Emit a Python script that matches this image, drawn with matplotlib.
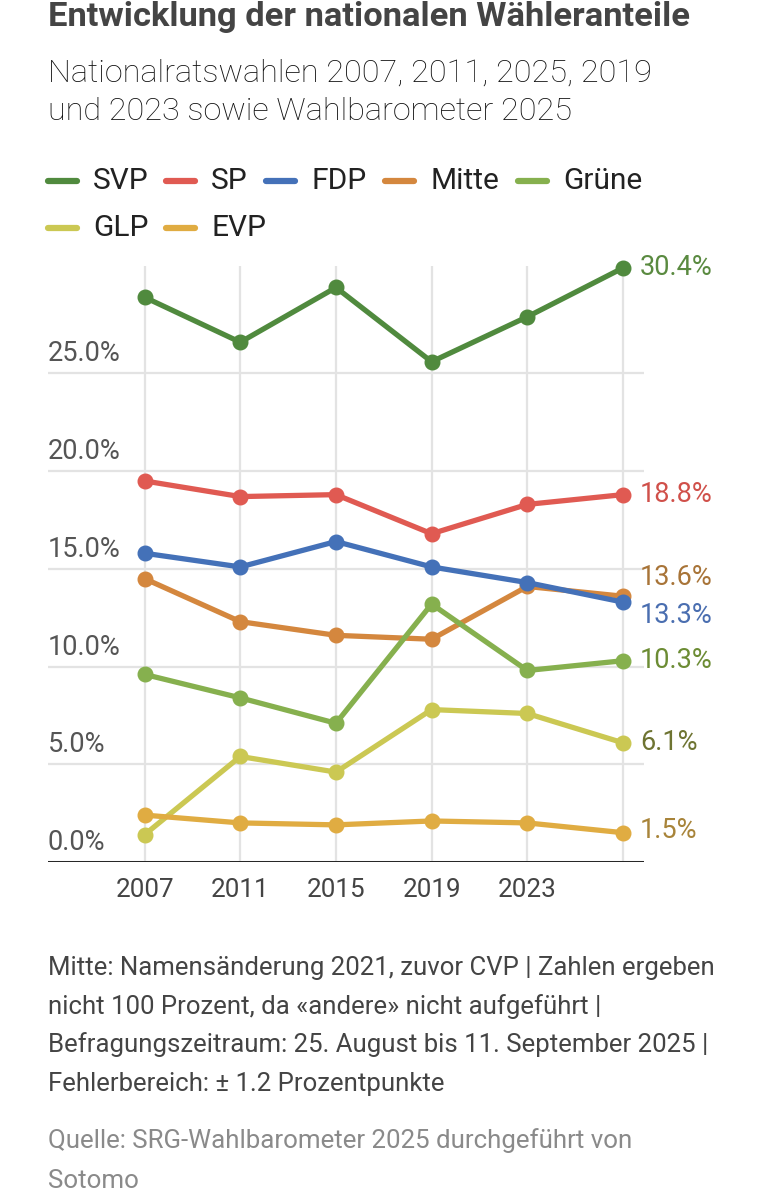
import matplotlib
matplotlib.use('Agg')
import matplotlib.pyplot as plt
from matplotlib.lines import Line2D
from matplotlib import transforms

FONT = ['Liberation Sans Narrow', 'Roboto', 'DejaVu Sans']
plt.rcParams['font.family'] = FONT

years = ['2007', '2011', '2015', '2019', '2023', '']
parties = ['SVP', 'SP', 'FDP', 'Mitte', 'Grüne', 'GLP', 'EVP']
svp = [28.9, 26.6, 29.4, 25.6, 27.9, 30.4]
sp = [19.5, 18.7, 18.8, 16.8, 18.3, 18.8]
fdp = [15.8, 15.1, 16.4, 15.1, 14.3, 13.3]
mitte = [14.5, 12.3, 11.6, 11.4, 14.1, 13.6]
gruene = [9.6, 8.4, 7.1, 13.2, 9.8, 10.3]
glp = [1.4, 5.4, 4.6, 7.8, 7.6, 6.1]
evp = [2.4, 2.0, 1.9, 2.1, 2.0, 1.5]
series = [svp, sp, fdp, mitte, gruene, glp, evp]
yticks = [0, 5, 10, 15, 20, 25]

colors = ['#508a3e', '#e05a52', '#4471b8', '#d4873e', '#86b04e', '#cbc853', '#e0ac42']
label_colors = ['#5a8a40', '#d0504a', '#4a6eb0', '#a87438', '#6c8c34', '#6e7432', '#a8843a']
zorders = [3, 3, 4, 3, 4, 4, 5]
label_shift = [0, 0, 13, -19, 0, 0, -2]  # pixels, to avoid overlapping end labels

W, H = 763, 1200
fig = plt.figure(figsize=(W / 100, H / 100), dpi=100)


def fx(px):
    return px / W


def fy(py):
    return 1 - py / H


# header
fig.text(fx(48), fy(17), 'Entwicklung der nationalen Wähleranteile', fontsize=24.8,
         fontweight='bold', color='#444444', va='center', ha='left')
fig.text(fx(48), fy(73), 'Nationalratswahlen 2007, 2011, 2025, 2019', fontsize=23.3,
         fontweight='light', color='#111111', va='center', ha='left')
fig.text(fx(48), fy(112), 'und 2023 sowie Wahlbarometer 2025', fontsize=23.3,
         fontweight='light', color='#111111', va='center', ha='left')

# legend (manual, as in the original)
leg_pos = [(48, 181), (166, 181), (266, 181), (385, 181), (518, 181), (48, 228), (166, 228)]
for name, c, (lx, ly) in zip(parties, colors, leg_pos):
    fig.add_artist(Line2D([fx(lx), fx(lx + 29)], [fy(ly), fy(ly)], transform=fig.transFigure,
                          color=c, lw=4.5, solid_capstyle='round'))
    fig.text(fx(lx + 45), fy(ly), name, fontsize=21.5, color='#222222',
             va='center', ha='left')

# plot area
ax_left, ax_right = 48, 644
ax_top, ax_bottom = 266, 862
ax = fig.add_axes([fx(ax_left), fy(ax_bottom), fx(ax_right - ax_left), (ax_bottom - ax_top) / H])

x = list(range(len(years)))
for vals, c, z in zip(series, colors, zorders):
    ax.plot(x, vals, color=c, lw=3.8, marker='o', markersize=10.5, zorder=z, clip_on=False,
            solid_capstyle='round', solid_joinstyle='round')

ax.set_xlim(-1.01, 5.22)
ax.set_ylim(0, 30.5)

for yv in yticks:
    ax.axhline(yv, color='#e3e3e3', lw=1.6, zorder=1)
for xv in x:
    ax.axvline(xv, color='#e3e3e3', lw=1.6, zorder=1)
ax.axhline(0, color='#111111', lw=2, zorder=2)

for spine in ax.spines.values():
    spine.set_visible(False)
ax.set_xticks([])
ax.set_yticks([])

ylab_tr = transforms.blended_transform_factory(ax.transAxes, ax.transData)
off_up = transforms.offset_copy(ylab_tr, fig=fig, x=0, y=6, units='dots')
for yv in yticks:
    ax.text(0, yv, f'{yv:.1f}%', transform=off_up, fontsize=19.5,
            color='#555555', ha='left', va='bottom')

xlab_tr = transforms.blended_transform_factory(ax.transData, ax.transAxes)
for xv, lab in zip(x, years):
    ax.text(xv, -28 / (ax_bottom - ax_top), lab, transform=xlab_tr, fontsize=18.7,
            color='#444444', ha='center', va='center')

# end labels
for vals, lc, sh in zip(series, label_colors, label_shift):
    tr = transforms.offset_copy(ax.transData, fig=fig, x=17, y=-sh, units='dots')
    ax.text(x[-1], vals[-1], f'{vals[-1]:.1f}%', transform=tr, fontsize=19.5,
            color=lc, ha='left', va='center', clip_on=False)

# footer
notes = ['Mitte: Namensänderung 2021, zuvor CVP | Zahlen ergeben',
         'nicht 100 Prozent, da «andere» nicht aufgeführt |',
         'Befragungszeitraum: 25. August bis 11. September 2025 |',
         'Fehlerbereich: ± 1.2 Prozentpunkte']
for i, line in enumerate(notes):
    fig.text(fx(48), fy(968 + i * 38.5), line, fontsize=18.5, color='#444444',
             va='center', ha='left')
source = ['Quelle: SRG-Wahlbarometer 2025 durchgeführt von', 'Sotomo']
for i, line in enumerate(source):
    fig.text(fx(48), fy(1141 + i * 40), line, fontsize=18.6, color='#8a8a8a',
             va='center', ha='left')

fig.savefig('out.png', dpi=100, facecolor='white')
